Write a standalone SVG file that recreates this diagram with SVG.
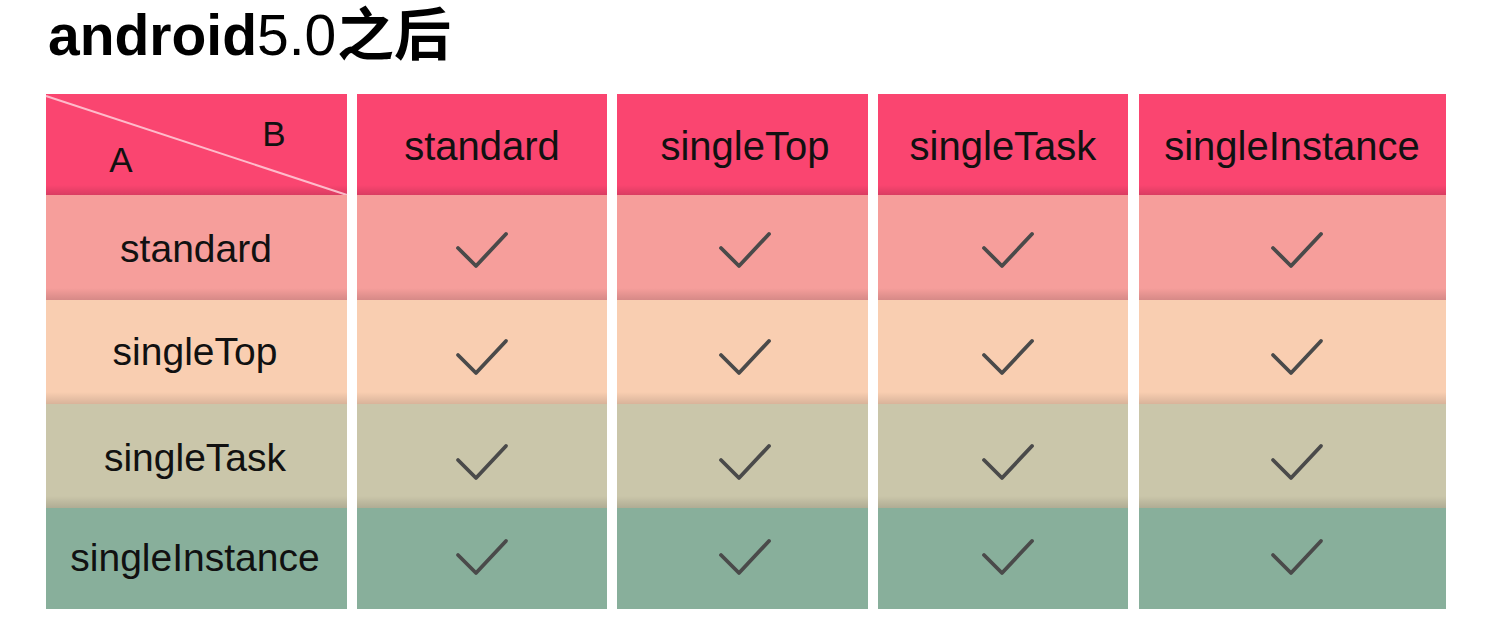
<svg xmlns="http://www.w3.org/2000/svg" width="1490" height="636" viewBox="0 0 1490 636">
<defs>
<linearGradient id="shade" x1="0" y1="0" x2="0" y2="1">
<stop offset="0" stop-color="#000" stop-opacity="0"/>
<stop offset="1" stop-color="#000" stop-opacity="0.13"/>
</linearGradient>
<style>
.hd{fill:#FA4570}
.r1{fill:#F69E9B}
.r2{fill:#F9CEB1}
.r3{fill:#CAC6AA}
.r4{fill:#88AF9B}
.sh{fill:url(#shade)}
.t{font-family:"Liberation Sans",Arial,"Noto Sans CJK SC",sans-serif;fill:#111;text-anchor:middle}
.th{font-size:40px}
.tr{font-size:39px}
.ti{font-family:"Liberation Sans",Arial,"Noto Sans CJK SC",sans-serif;font-size:57px;fill:#000}
.ck{fill:none;stroke:#4A4A4A;stroke-width:3.8;stroke-linecap:round;stroke-linejoin:round}
</style>
<path id="chk" d="M-24 0 L-6 18 L24 -14"/>
</defs>
<rect width="1490" height="636" fill="#FFFFFF"/>
<g id="title">
<text class="ti" x="48" y="55" font-weight="bold">android</text>
<text class="ti" x="257" y="55">5.0</text>
<text class="ti" x="337" y="55" font-weight="bold" font-family="'Noto Sans CJK SC',sans-serif" font-size="54">之后</text>
</g>

<g id="header">
<g id="h0"><rect class="hd" x="46" y="94" width="301" height="101"/><rect class="sh" x="46" y="185" width="301" height="10"/>
<line x1="46" y1="96" x2="347" y2="195" stroke="#FFD0DA" stroke-width="2" stroke-opacity="0.85"/>
<text class="t" x="121" y="172" font-size="35">A</text><text class="t" x="274" y="146" font-size="35">B</text></g>
<g id="h1"><rect class="hd" x="357" y="94" width="250" height="101"/><rect class="sh" x="357" y="185" width="250" height="10"/><text class="t th" x="482" y="160">standard</text></g>
<g id="h2"><rect class="hd" x="617" y="94" width="251" height="101"/><rect class="sh" x="617" y="185" width="251" height="10"/><text class="t th" x="745" y="160">singleTop</text></g>
<g id="h3"><rect class="hd" x="878" y="94" width="250" height="101"/><rect class="sh" x="878" y="185" width="250" height="10"/><text class="t th" x="1003" y="160">singleTask</text></g>
<g id="h4"><rect class="hd" x="1139" y="94" width="307" height="101"/><rect class="sh" x="1139" y="185" width="307" height="10"/><text class="t th" x="1292" y="160">singleInstance</text></g>
</g>

<g id="row1">
<g id="r1c0"><rect class="r1" x="46" y="195" width="301" height="105"/><rect class="sh" x="46" y="288" width="301" height="12"/><text class="t tr" x="196" y="262">standard</text></g>
<g id="r1c1"><rect class="r1" x="357" y="195" width="250" height="105"/><rect class="sh" x="357" y="288" width="250" height="12"/><use href="#chk" class="ck" x="482" y="248"/></g>
<g id="r1c2"><rect class="r1" x="617" y="195" width="251" height="105"/><rect class="sh" x="617" y="288" width="251" height="12"/><use href="#chk" class="ck" x="745" y="248"/></g>
<g id="r1c3"><rect class="r1" x="878" y="195" width="250" height="105"/><rect class="sh" x="878" y="288" width="250" height="12"/><use href="#chk" class="ck" x="1008" y="248"/></g>
<g id="r1c4"><rect class="r1" x="1139" y="195" width="307" height="105"/><rect class="sh" x="1139" y="288" width="307" height="12"/><use href="#chk" class="ck" x="1297" y="248"/></g>
</g>

<g id="row2">
<g id="r2c0"><rect class="r2" x="46" y="300" width="301" height="104"/><rect class="sh" x="46" y="392" width="301" height="12"/><text class="t tr" x="195" y="365">singleTop</text></g>
<g id="r2c1"><rect class="r2" x="357" y="300" width="250" height="104"/><rect class="sh" x="357" y="392" width="250" height="12"/><use href="#chk" class="ck" x="482" y="355"/></g>
<g id="r2c2"><rect class="r2" x="617" y="300" width="251" height="104"/><rect class="sh" x="617" y="392" width="251" height="12"/><use href="#chk" class="ck" x="745" y="355"/></g>
<g id="r2c3"><rect class="r2" x="878" y="300" width="250" height="104"/><rect class="sh" x="878" y="392" width="250" height="12"/><use href="#chk" class="ck" x="1008" y="355"/></g>
<g id="r2c4"><rect class="r2" x="1139" y="300" width="307" height="104"/><rect class="sh" x="1139" y="392" width="307" height="12"/><use href="#chk" class="ck" x="1297" y="355"/></g>
</g>

<g id="row3">
<g id="r3c0"><rect class="r3" x="46" y="404" width="301" height="104"/><rect class="sh" x="46" y="496" width="301" height="12"/><text class="t tr" x="195" y="471">singleTask</text></g>
<g id="r3c1"><rect class="r3" x="357" y="404" width="250" height="104"/><rect class="sh" x="357" y="496" width="250" height="12"/><use href="#chk" class="ck" x="482" y="460"/></g>
<g id="r3c2"><rect class="r3" x="617" y="404" width="251" height="104"/><rect class="sh" x="617" y="496" width="251" height="12"/><use href="#chk" class="ck" x="745" y="460"/></g>
<g id="r3c3"><rect class="r3" x="878" y="404" width="250" height="104"/><rect class="sh" x="878" y="496" width="250" height="12"/><use href="#chk" class="ck" x="1008" y="460"/></g>
<g id="r3c4"><rect class="r3" x="1139" y="404" width="307" height="104"/><rect class="sh" x="1139" y="496" width="307" height="12"/><use href="#chk" class="ck" x="1297" y="460"/></g>
</g>

<g id="row4">
<g id="r4c0"><rect class="r4" x="46" y="508" width="301" height="101"/><text class="t tr" x="195" y="571">singleInstance</text></g>
<g id="r4c1"><rect class="r4" x="357" y="508" width="250" height="101"/><use href="#chk" class="ck" x="482" y="555"/></g>
<g id="r4c2"><rect class="r4" x="617" y="508" width="251" height="101"/><use href="#chk" class="ck" x="745" y="555"/></g>
<g id="r4c3"><rect class="r4" x="878" y="508" width="250" height="101"/><use href="#chk" class="ck" x="1008" y="555"/></g>
<g id="r4c4"><rect class="r4" x="1139" y="508" width="307" height="101"/><use href="#chk" class="ck" x="1297" y="555"/></g>
</g>
</svg>
